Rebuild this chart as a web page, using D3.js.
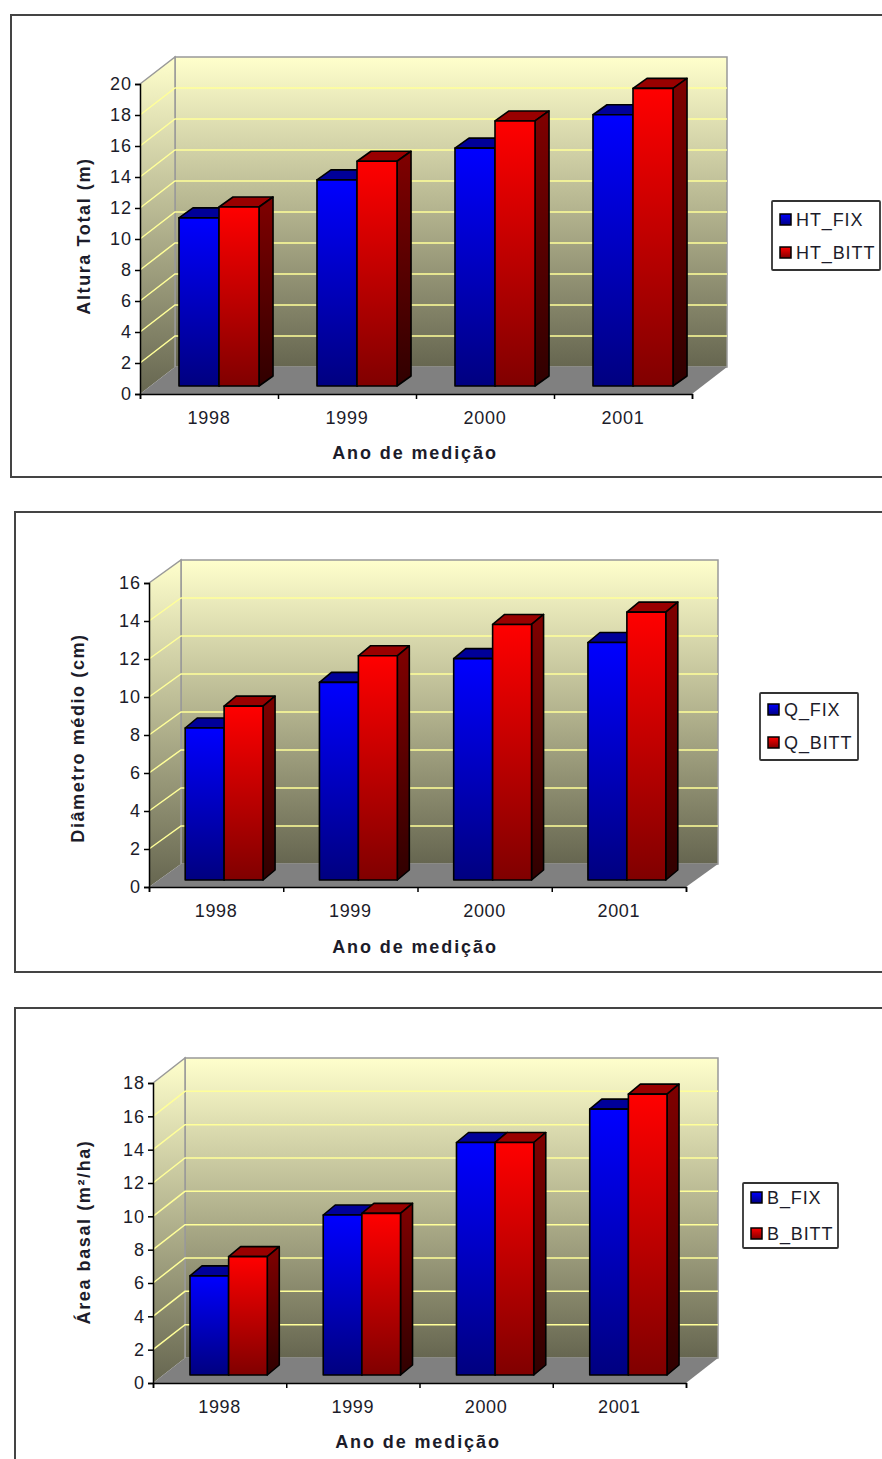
<!DOCTYPE html>
<html>
<head>
<meta charset="utf-8">
<script src="https://cdn.jsdelivr.net/npm/d3@7/dist/d3.min.js"></script>
<style>
  html, body { margin: 0; padding: 0; background: #fff; }
  svg { display: block; }
  text { font-family: "Liberation Sans", Arial, sans-serif; fill: #1c1c2a; }
</style>
</head>
<body>
<svg id="figure" width="882" height="1459"></svg>
<script>
// Measurement years shared by the three panels
const categories = ["1998", "1999", "2000", "2001"];

// Total height (m)
const htFix = [10.85, 13.3, 15.35, 17.5];
const htBitt = [11.55, 14.5, 17.1, 19.2];
const htTicks = [0, 2, 4, 6, 8, 10, 12, 14, 16, 18, 20];

// Mean diameter (cm)
const qFix = [8.0, 10.4, 11.65, 12.5];
const qBitt = [9.15, 11.8, 13.45, 14.1];
const qTicks = [0, 2, 4, 6, 8, 10, 12, 14, 16];

// Basal area (m²/ha)
const bFix = [5.95, 9.6, 13.95, 15.95];
const bBitt = [7.1, 9.7, 13.95, 16.85];
const bTicks = [0, 2, 4, 6, 8, 10, 12, 14, 16, 18];

const svg = d3.select("#figure");
const defs = svg.append("defs");

function verticalGradient(id, top, bottom) {
  const g = defs.append("linearGradient").attr("id", id)
    .attr("x1", 0).attr("y1", 0).attr("x2", 0).attr("y2", 1);
  g.append("stop").attr("offset", 0).attr("stop-color", top);
  g.append("stop").attr("offset", 1).attr("stop-color", bottom);
}
verticalGradient("wall", "#ffffcc", "#666650");
verticalGradient("blueFront", "#0000ff", "#000080");
verticalGradient("redFront", "#ff0000", "#800000");
verticalGradient("blueSide", "#000080", "#000030");
verticalGradient("redSide", "#800000", "#300000");

const seriesFills = [
  { front: "url(#blueFront)", side: "url(#blueSide)", top: "#000099", swatch: "url(#blueFront)" },
  { front: "url(#redFront)", side: "url(#redSide)", top: "#990000", swatch: "url(#redFront)" }
];

const poly = pts => pts.map(p => p.join(",")).join(" ");

function drawPanel(p) {
  const g = svg.append("g");

  // Outer frame, open where it runs off the page
  g.append("path")
    .attr("d", p.framePath)
    .attr("fill", "none").attr("stroke", "#444").attr("stroke-width", 2);

  const y = d3.scaleLinear().domain([0, p.max]).range([p.y0, p.yTop]);
  const boundary = d3.scaleLinear().domain([0, categories.length]).range([p.x0, p.x1]);
  const dx = p.depth[0], dy = p.depth[1];

  // Back wall, side wall and floor of the 3D box
  g.append("rect")
    .attr("x", p.x0 + dx).attr("y", p.yTop + dy)
    .attr("width", p.x1 - p.x0).attr("height", p.y0 - p.yTop)
    .attr("fill", "url(#wall)").attr("stroke", "#999").attr("stroke-width", 1.5);
  g.append("polygon")
    .attr("points", poly([[p.x0, p.yTop], [p.x0 + dx, p.yTop + dy], [p.x0 + dx, p.y0 + dy], [p.x0, p.y0]]))
    .attr("fill", "url(#wall)");
  g.append("polyline")
    .attr("points", poly([[p.x0, p.yTop], [p.x0 + dx, p.yTop + dy], [p.x0 + dx, p.y0 + dy]]))
    .attr("fill", "none").attr("stroke", "#999").attr("stroke-width", 1.5);
  g.append("polygon")
    .attr("points", poly([[p.x0, p.y0], [p.x0 + dx, p.y0 + dy], [p.x1 + dx, p.y0 + dy], [p.x1, p.y0]]))
    .attr("fill", "#808080");

  // Gridlines on both walls
  const gridTicks = p.ticks.filter(t => t > 0 && t < p.max);
  g.selectAll(".grid").data(gridTicks).join("polyline")
    .attr("points", t => poly([[p.x0, y(t)], [p.x0 + dx, y(t) + dy], [p.x1 + dx, y(t) + dy]]))
    .attr("fill", "none").attr("stroke", "#ffff99").attr("stroke-width", 1.5);

  // Clustered 3D bars, standing a little behind the front edge of the floor
  const lift = p.barLift;
  const x0 = d3.scaleBand().domain(categories)
    .range([p.x0 + lift[0], p.x1 + lift[0]])
    .paddingInner(0.42).paddingOuter(0.21);
  const x1 = d3.scaleBand().domain(p.series.map((_, i) => i)).range([0, x0.bandwidth()]);
  const bd = p.barDepth;

  p.series.forEach((s, si) => {
    const fill = seriesFills[si];
    const bars = g.append("g").selectAll("g").data(s.values).join("g");
    const left = (d, i) => x0(categories[i]) + x1(si);
    const right = (d, i) => left(d, i) + x1.bandwidth();
    const top = d => y(d) + lift[1];
    const base = y(0) + lift[1];
    const edge = { stroke: "#000", "stroke-width": 1.6, "stroke-linejoin": "round" };
    const apply = (sel, attrs) => { Object.entries(attrs).forEach(([k, v]) => sel.attr(k, v)); return sel; };

    apply(bars.append("polygon")
      .attr("points", (d, i) => poly([[left(d, i), top(d)], [left(d, i) + bd[0], top(d) + bd[1]], [right(d, i) + bd[0], top(d) + bd[1]], [right(d, i), top(d)]]))
      .attr("fill", fill.top), edge);
    apply(bars.append("polygon")
      .attr("points", (d, i) => poly([[right(d, i), top(d)], [right(d, i) + bd[0], top(d) + bd[1]], [right(d, i) + bd[0], base + bd[1]], [right(d, i), base]]))
      .attr("fill", fill.side), edge);
    apply(bars.append("rect")
      .attr("x", left).attr("y", top)
      .attr("width", x1.bandwidth()).attr("height", d => base - top(d))
      .attr("fill", fill.front), edge);
  });

  // Value axis
  const yAxis = g.append("g").attr("transform", `translate(${p.x0},0)`)
    .call(d3.axisLeft(y).tickValues(p.ticks).tickFormat(d3.format("d")).tickSize(5).tickPadding(3));
  // Year axis: ticks on category boundaries, labels centred between them
  const xTicks = g.append("g").attr("transform", `translate(0,${p.y0})`)
    .call(d3.axisBottom(boundary).tickValues(d3.range(categories.length + 1)).tickFormat("").tickSize(5));
  const labelScale = d3.scaleBand().domain(categories).range([p.x0, p.x1]);
  const xLabels = g.append("g").attr("transform", `translate(0,${p.y0})`)
    .call(d3.axisBottom(labelScale).tickSize(0).tickPadding(17));
  xLabels.select(".domain").remove();
  [yAxis, xTicks].forEach(a => a.selectAll("path, line").attr("stroke", "#000").attr("stroke-width", 1.5));
  yAxis.selectAll("text").attr("font-size", 18).attr("font-family", null).attr("letter-spacing", 1);
  xLabels.selectAll("text").attr("font-size", 18).attr("font-family", null).attr("letter-spacing", 0.7);

  // Axis titles
  g.append("text").attr("x", p.xTitle[0]).attr("y", p.xTitle[1])
    .attr("text-anchor", "middle").attr("font-weight", "bold").attr("font-size", 18)
    .attr("letter-spacing", 1.9).text("Ano de medição");
  g.append("text").attr("transform", `translate(${p.yTitle[0]},${p.yTitle[1]}) rotate(-90)`)
    .attr("text-anchor", "middle").attr("font-weight", "bold").attr("font-size", 18)
    .attr("letter-spacing", 1.6).text(p.yLabel);

  // Legend
  const lg = g.append("g").attr("transform", `translate(${p.legend.x},${p.legend.y})`);
  lg.append("rect").attr("width", p.legend.w).attr("height", p.legend.h)
    .attr("fill", "#fff").attr("stroke", "#333").attr("stroke-width", 1.8).attr("rx", 1);
  const rowY = d3.scalePoint().domain(p.series.map(s => s.name)).range(p.legend.rows);
  const rows = lg.selectAll(".row").data(p.series).join("g")
    .attr("transform", s => `translate(8,${rowY(s.name)})`);
  rows.append("rect").attr("x", 0).attr("y", -6).attr("width", 11).attr("height", 11)
    .attr("fill", (s, i) => seriesFills[i].swatch).attr("stroke", "#000").attr("stroke-width", 1.5);
  rows.append("text").attr("x", 16).attr("y", 6).attr("font-size", 18)
    .attr("letter-spacing", 0.9).text(s => s.name);
}

drawPanel({
  framePath: "M882,15H11V477H882",
  max: 20, ticks: htTicks, x0: 140, x1: 692, y0: 394, yTop: 84, depth: [35, -27],
  barLift: [10, -8], barDepth: [14, -10],
  series: [{ name: "HT_FIX", values: htFix }, { name: "HT_BITT", values: htBitt }],
  yLabel: "Altura Total (m)", xTitle: [415, 459], yTitle: [90, 236],
  legend: { x: 772, y: 201, w: 108, h: 69, rows: [19, 52] }
});
drawPanel({
  framePath: "M882,512H15V972H882",
  max: 16, ticks: qTicks, x0: 149, x1: 686, y0: 887, yTop: 583, depth: [32, -23],
  barLift: [8, -7], barDepth: [12, -10],
  series: [{ name: "Q_FIX", values: qFix }, { name: "Q_BITT", values: qBitt }],
  yLabel: "Diâmetro médio (cm)", xTitle: [415, 953], yTitle: [84, 738],
  legend: { x: 760, y: 693, w: 98, h: 67, rows: [17, 50] }
});
drawPanel({
  framePath: "M882,1008H15V1459",
  max: 18, ticks: bTicks, x0: 153, x1: 686, y0: 1383, yTop: 1083, depth: [32, -25],
  barLift: [9, -8], barDepth: [12, -10],
  series: [{ name: "B_FIX", values: bFix }, { name: "B_BITT", values: bBitt }],
  yLabel: "Área basal (m²/ha)", xTitle: [418, 1448], yTitle: [90, 1232],
  legend: { x: 743, y: 1183, w: 95, h: 65, rows: [15, 51] }
});
</script>
</body>
</html>
